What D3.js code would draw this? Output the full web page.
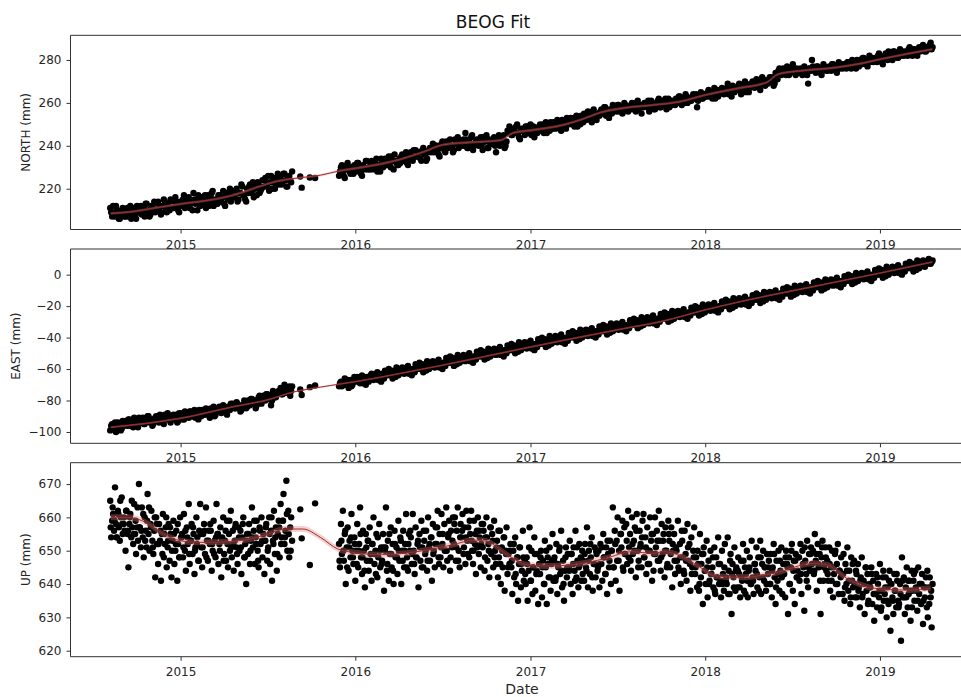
<!DOCTYPE html>
<html><head><meta charset="utf-8">
<script src="https://cdn.jsdelivr.net/npm/d3@7"></script>
<style>html,body{margin:0;padding:0;background:#fff;} svg{display:block;}</style>
</head><body><svg id="chart" width="961" height="697"></svg>
<script>
// ---- tick labels ----
const years = ["2015", "2016", "2017", "2018", "2019"];
const northTicks = [220, 240, 260, 280];
const eastTicks = [-100, -80, -60, -40, -20, 0];
const upTicks = [620, 630, 640, 650, 660, 670];

// ---- sampling epochs ----
const startA = "2014-08-07";          // first campaign block
const startB = "2015-11-28";          // block after the outage
const stepNE = 4;                     // days between epochs within one N/E array
const stepUp = 2;                     // days between epochs in the main U arrays
const stepUp2 = 4;                    // days between epochs in the secondary U arrays
const gapDates = ["2015-09-08", "2015-09-11", "2015-09-28", "2015-10-09"];

// ---- NORTH (mm) ----
const northA = [211,207,209,212,208,206,210,208, 207,211,209,206,210,208,212,209,
  212,209,207,213,210,208,211,214, 210,214,212,209,215,211,213,210,
  214,211,216,212,209,213,215,211, 212,216,213,210,215,214,217,212,
  216,213,211,217,214,218,212,215, 213,217,215,219,212,216,218,214,
  219,216,220,215,218,221,217,214, 218,222,219,216,221,223,218,220,
  221,225,222,219,226,223,220,224, 222,226,223,227,221,225,224,228];
const northA2 = [209,212,207,210,206,209,211,207, 210,207,212,208,211,206,209,210,
  208,211,213,209,207,212,210,209, 213,210,208,212,214,209,211,215,
  211,215,213,210,214,212,217,213, 215,211,214,218,213,210,216,214,
  213,217,215,212,216,219,214,213, 217,214,216,213,218,215,220,216,
  216,219,214,218,222,217,215,220, 221,218,223,220,217,222,219,224,
  224,221,226,223,220,225,222,227, 225,222,227,224,221,226,223];
const northGap = [225.7, 220.5, 225.2, 225.0];
const northB = [226,230,228,225,231,229,227,230, 231,228,232,229,226,230,233,229,
  229,233,230,232,228,231,234,230, 234,231,235,230,233,236,232,231,
  232,236,233,237,231,235,234,238, 238,235,237,233,239,236,234,238,
  237,241,238,240,236,239,242,238, 242,239,243,240,238,241,244,240,
  240,243,246,239,242,244,238,241, 243,240,244,238,242,245,239,241,
  241,244,237,243,240,242,245,240, 247,249,245,248,246,250,244,248,
  248,245,249,247,250,246,244,248, 247,250,248,246,251,249,247,250,
  251,248,252,249,247,251,250,253, 250,253,251,249,254,252,250,253,
  255,252,256,253,251,257,254,255, 254,257,256,258,255,253,257,259,
  258,256,259,257,255,260,258,256, 257,260,258,256,261,259,255,258,
  260,258,256,261,259,257,260,262, 258,261,260,257,262,260,259,261,
  262,260,263,259,261,264,260,262, 261,264,262,258,263,265,262,264,
  263,266,264,262,267,265,263,266, 267,264,266,269,265,263,267,266,
  266,269,264,268,270,267,265,269, 270,267,271,268,266,272,269,270,
  269,272,270,268,274,271,276,273, 276,274,277,273,275,278,274,276,
  274,276,273,277,275,269,276,280, 276,274,277,275,273,278,276,275,
  277,275,278,276,274,279,277,276, 278,276,279,277,280,278,276,279,
  280,278,281,279,277,282,280,279, 281,279,283,280,278,282,281,284,
  283,280,284,282,281,285,283,282, 284,282,286,283,285,284,282,286,
  285,287,284,286,285,288,286];
const northB2 = [228,231,226,229,232,228,230,227, 229,232,230,227,231,229,233,230,
  232,229,231,234,230,228,232,231, 231,234,232,235,229,233,231,234,
  235,233,236,232,234,237,233,235, 235,237,234,238,236,233,237,239,
  239,237,240,238,235,241,239,237, 239,242,240,237,243,241,239,242,
  242,240,243,239,241,245,240,242, 241,243,240,244,242,239,243,241,
  243,240,242,245,241,243,239,242, 246,248,245,247,249,246,243,247,
  247,249,246,248,245,249,247,246, 249,247,250,248,246,249,251,248,
  250,249,251,248,252,250,248,251, 252,250,253,251,249,252,254,251,
  254,253,255,252,256,254,252,255, 256,255,258,254,256,257,255,257,
  257,259,256,258,256,259,257,258, 259,257,260,258,257,259,258,260,
  259,261,258,260,257,259,261,258, 260,259,262,260,258,261,260,259,
  261,263,260,262,260,263,261,262, 263,262,264,261,263,262,264,263,
  265,263,265,264,262,266,264,265, 266,265,267,264,266,268,265,266,
  268,266,268,267,265,268,267,268, 269,268,270,267,269,271,268,269,
  271,270,272,269,273,275,274,275, 275,273,276,274,276,275,273,275,
  275,274,276,275,273,276,275,277, 275,277,276,274,276,277,275,276,
  276,278,277,275,277,276,278,277, 277,279,278,276,279,278,280,277,
  279,281,280,278,280,279,281,280, 280,282,281,279,281,283,280,282,
  282,284,283,281,283,282,284,283, 283,285,284,282,285,283,285,284,
  285,286,284,286,287,285];

// ---- EAST (mm) ----
const eastA = [-99,-95,-97,-100,-94,-96,-98,-95, -93,-96,-92,-95,-97,-93,-94,-91,
  -94,-91,-95,-92,-90,-93,-96,-92, -90,-93,-89,-92,-95,-91,-88,-92,
  -92,-89,-91,-94,-88,-90,-92,-87, -88,-91,-87,-90,-86,-89,-92,-88,
  -86,-89,-85,-88,-91,-87,-84,-89, -87,-84,-88,-83,-86,-89,-85,-82,
  -82,-85,-81,-84,-87,-83,-80,-85, -80,-83,-79,-82,-85,-80,-77,-82,
  -77,-80,-76,-79,-83,-74,-78,-75, -74,-72,-76,-70,-75,-73,-77,-71];
const eastA2 = [-96,-98,-94,-97,-95,-99,-93,-96, -95,-92,-96,-94,-91,-95,-97,-93,
  -92,-95,-93,-90,-94,-92,-95,-91, -91,-94,-91,-93,-89,-92,-90,-94,
  -90,-92,-89,-93,-90,-88,-92,-90, -89,-87,-90,-88,-91,-89,-86,-90,
  -87,-89,-86,-88,-85,-88,-90,-86, -85,-87,-84,-86,-88,-84,-86,-83,
  -83,-85,-82,-84,-86,-83,-81,-84, -81,-79,-82,-80,-83,-78,-81,-80,
  -78,-76,-79,-77,-80,-75,-78,-76, -74,-76,-72,-75,-73,-71,-74];
const eastGap = [-73.0, -76.5, -71.5, -70.5];
const eastB = [-71,-68,-70,-66,-69,-72,-67,-70, -65,-68,-66,-69,-64,-67,-70,-66,
  -66,-63,-67,-64,-62,-66,-68,-64, -61,-64,-60,-63,-66,-62,-59,-64,
  -62,-59,-63,-60,-58,-62,-64,-60, -57,-60,-56,-59,-62,-58,-55,-60,
  -58,-55,-59,-56,-54,-58,-60,-56, -53,-56,-52,-55,-58,-54,-51,-56,
  -54,-51,-55,-52,-50,-54,-56,-52, -49,-52,-48,-51,-54,-50,-47,-52,
  -50,-47,-51,-48,-46,-50,-52,-48, -45,-48,-44,-47,-50,-46,-43,-48,
  -46,-43,-47,-44,-42,-46,-48,-44, -41,-44,-40,-43,-46,-42,-39,-44,
  -42,-39,-43,-40,-38,-42,-44,-40, -37,-40,-36,-39,-42,-38,-35,-40,
  -38,-35,-39,-36,-34,-38,-40,-36, -33,-36,-32,-35,-38,-34,-31,-36,
  -34,-31,-35,-32,-30,-34,-36,-32, -29,-32,-28,-31,-34,-30,-27,-32,
  -30,-27,-31,-28,-26,-30,-32,-28, -25,-28,-24,-27,-30,-26,-23,-28,
  -26,-23,-27,-24,-22,-26,-28,-24, -21,-24,-20,-23,-26,-22,-19,-24,
  -22,-19,-23,-20,-18,-22,-24,-20, -17,-20,-16,-19,-22,-18,-15,-20,
  -18,-15,-19,-16,-14,-18,-20,-16, -13,-16,-12,-15,-18,-14,-11,-16,
  -14,-11,-15,-12,-10,-14,-16,-12, -9,-12,-8,-11,-14,-10,-7,-12,
  -10,-7,-11,-8,-6,-10,-12,-8, -5,-8,-4,-7,-10,-6,-3,-8,
  -6,-3,-7,-4,-2,-6,-8,-4, -1,-4,0,-3,-6,-2,1,-4,
  -2,1,-3,0,2,-2,-4,0, 3,0,4,1,-2,2,5,0,
  2,5,1,4,6,2,0,4, 7,4,8,5,2,6,9,4,
  6,9,5,8,10,7,9];
const eastB2 = [-69,-71,-68,-70,-67,-69,-71,-68, -67,-65,-68,-66,-69,-67,-65,-68,
  -64,-66,-65,-63,-67,-65,-63,-66, -63,-62,-64,-61,-63,-65,-62,-63,
  -60,-62,-61,-59,-63,-61,-60,-62, -59,-58,-60,-57,-59,-61,-58,-59,
  -56,-58,-57,-55,-59,-57,-56,-58, -55,-54,-56,-53,-55,-57,-54,-55,
  -52,-54,-53,-51,-55,-53,-52,-54, -51,-50,-52,-49,-51,-53,-50,-51,
  -48,-50,-49,-47,-51,-49,-48,-50, -47,-46,-48,-45,-47,-49,-46,-47,
  -44,-46,-45,-43,-47,-45,-44,-46, -43,-42,-44,-41,-43,-45,-42,-43,
  -40,-42,-41,-39,-43,-41,-40,-42, -39,-38,-40,-37,-39,-41,-38,-39,
  -36,-38,-37,-35,-39,-37,-36,-38, -35,-34,-36,-33,-35,-37,-34,-35,
  -32,-34,-33,-31,-35,-33,-32,-34, -31,-30,-32,-29,-31,-33,-30,-31,
  -28,-30,-29,-27,-31,-29,-28,-30, -27,-26,-28,-25,-27,-29,-26,-27,
  -24,-26,-25,-23,-27,-25,-24,-26, -23,-22,-24,-21,-23,-25,-22,-23,
  -20,-22,-21,-19,-23,-21,-20,-22, -19,-18,-20,-17,-19,-21,-18,-19,
  -16,-18,-17,-15,-19,-17,-16,-18, -15,-14,-16,-13,-15,-17,-14,-15,
  -12,-14,-13,-11,-15,-13,-12,-14, -11,-10,-12,-9,-11,-13,-10,-11,
  -8,-10,-9,-7,-11,-9,-8,-10, -7,-6,-8,-5,-7,-9,-6,-7,
  -4,-6,-5,-3,-7,-5,-4,-6, -3,-2,-4,-1,-3,-5,-2,-3,
  0,-2,-1,1,-3,-1,0,-2, 1,2,0,3,1,-1,2,1,
  4,2,3,5,1,3,4,2, 5,6,4,7,5,3,6,5,
  8,6,7,9,7,8];

// ---- UP (mm) ----
const upA = [665,654,659,661,656,669,658,654,662,657,653,660,666,655,658,
  656,650,662,655,645,658,661,654,657,652,664,655,649,657,653,
  670,657,651,663,654,648,660,656,651,667,655,650,658,662,653,
  649,656,642,660,652,646,658,653,641,655,661,648,652,657,645,
  651,658,647,655,642,653,659,646,650,656,641,652,648,660,654,
  655,648,661,650,644,657,652,664,646,653,658,649,655,643,651,
  660,654,647,656,664,651,645,655,658,649,663,653,647,656,652,
  656,644,650,659,653,648,664,655,646,652,657,642,654,660,649,
  653,647,659,645,655,650,662,648,656,644,653,658,651,646,657,
  650,656,643,654,660,648,652,640,655,649,658,646,653,663,651,
  656,646,654,659,650,645,657,652,660,648,655,643,653,658,647,
  651,660,646,656,641,653,662,649,657,644,655,659,648,664,654,
  659,667,652,656,671,650,662,648,657,660,653];
const upA2 = [657,663,659,654,661,665,658,660, 662,656,660,665,655,659,663,657,
  656,661,653,659,663,657,651,660, 658,652,656,649,655,660,653,657,
  650,655,652,658,648,654,651,656, 654,649,653,657,650,652,647,655,
  651,656,648,653,658,652,649,654, 655,650,653,647,656,652,659,651,
  652,657,649,654,651,658,648,653, 655,650,654,659,652,647,656,653,
  653,657,650,655,660,652,654,649, 657,652,659,654,661,655,650];
const upGap = [662.4, 653.7, 645.7, 664.2];
const upB = [652,645,658,649,662,647,655,640,651,657,644,653,648,661,650,
  646,654,641,650,658,645,652,663,648,643,656,650,639,655,647,
  653,644,657,649,641,652,660,646,650,655,642,648,658,645,651,
  647,655,638,650,663,644,653,641,649,657,645,652,640,656,648,
  651,643,659,647,654,640,650,656,645,652,661,648,644,655,650,
  654,646,661,650,643,657,648,652,639,655,647,659,651,645,653,
  649,656,644,660,651,647,654,641,658,650,645,657,652,662,648,
  655,648,661,652,645,658,650,663,647,654,659,644,656,651,660,
  652,660,647,656,663,650,645,658,654,661,649,657,646,662,653,
  657,648,655,662,650,646,659,652,643,656,660,649,654,645,658,
  651,656,644,654,660,647,652,642,657,649,655,645,659,650,646,
  653,642,648,656,640,651,645,654,638,650,657,643,649,646,652,
  645,637,650,642,654,640,648,635,646,651,639,644,656,641,647,
  640,648,635,644,657,641,650,637,645,654,638,643,649,634,646,
  643,650,636,647,640,653,645,634,648,642,651,638,646,655,641,
  648,641,652,637,645,650,643,656,639,647,635,644,651,642,649,
  645,653,640,649,637,651,644,656,642,647,639,652,646,641,650,
  647,641,652,645,657,639,650,643,648,654,638,646,651,642,649,
  644,650,639,652,646,641,655,648,643,651,637,649,645,653,640,
  650,663,645,656,641,653,660,647,638,655,651,659,644,657,649,
  658,646,662,651,655,644,660,649,653,657,642,661,650,647,656,
  652,645,659,661,648,654,643,657,650,646,660,653,641,655,649,
  660,651,656,647,662,653,644,658,649,655,642,657,650,646,659,
  653,645,657,639,650,655,643,651,647,659,644,652,640,656,648,
  644,656,649,641,658,647,652,638,654,645,650,657,643,648,639,
  646,638,655,642,649,634,651,644,640,653,636,647,641,650,643,
  645,639,651,637,648,642,654,640,646,636,650,643,638,652,641,
  640,654,644,637,649,631,646,642,651,638,645,639,648,643,636,
  647,641,652,638,645,643,650,636,644,648,640,653,642,637,646,
  644,651,639,648,642,653,637,646,650,641,645,638,649,643,647,
  640,649,636,645,652,642,634,647,641,650,638,644,651,637,646,
  643,636,650,646,631,648,640,645,652,638,647,634,649,642,644,
  648,641,652,637,650,645,632,647,643,653,639,649,644,651,646,
  650,643,655,647,638,652,645,649,631,648,653,641,646,651,644,
  647,641,651,638,645,650,636,643,649,640,646,652,637,644,642,
  643,637,649,635,646,640,651,638,644,634,648,641,639,647,636,
  644,636,646,639,633,642,648,637,641,631,645,638,643,635,640,
  639,645,634,641,629,637,643,633,640,636,646,632,638,642,635,
  637,642,630,639,634,644,626,640,636,631,643,638,633,641,635,
  634,640,623,648,636,642,631,639,645,633,637,641,629,644,638,
  641,635,644,638,632,645,637,640,634,643,628,639,636,642,633,
  630,639,642,636,627,640];
const upB2 = [647,653,650,656,645,651,654,648, 652,646,650,655,648,644,651,653,
  647,652,649,643,654,650,646,651, 651,646,655,649,644,652,648,650,
  653,647,650,645,652,656,649,646, 648,653,651,645,656,650,647,652,
  654,649,652,657,646,651,655,650, 650,655,648,653,658,651,647,654,
  656,651,654,649,659,653,650,655, 651,656,652,658,648,654,650,657,
  653,648,651,656,646,650,654,649, 645,650,647,652,643,648,651,646,
  648,643,646,651,641,645,649,644, 643,648,645,640,650,646,642,647,
  647,642,646,651,644,640,648,645, 644,649,646,641,651,645,648,643,
  649,644,647,652,642,646,650,645, 646,651,648,643,653,647,650,645,
  652,647,650,655,645,649,653,648, 647,652,650,656,645,651,654,648,
  651,646,650,655,644,649,653,647, 648,653,650,645,655,649,652,647,
  650,645,648,653,643,647,651,646, 643,648,645,650,640,646,649,644,
  645,640,643,648,638,642,646,641, 640,645,642,637,647,643,639,644,
  644,639,642,647,637,641,645,640, 641,646,643,638,648,642,645,640,
  645,640,644,649,639,643,647,642, 643,648,645,640,650,644,647,642,
  648,643,646,651,641,645,649,644, 644,649,646,641,651,645,648,643,
  646,641,645,650,640,644,648,643, 639,644,641,636,646,640,643,638,
  641,636,640,645,634,639,643,637, 637,642,638,633,644,639,635,641,
  640,635,638,643,633,637,641,636, 636,641,638,633,643,639,635,640,
  640,635,639,644,634,638];

// ---- fitted trajectories (decimal year, mm) ----
const northFitT = [2014.60,2014.72,2014.85,2015.0,2015.15,2015.3,2015.45,2015.55,2015.65,2015.8,2015.92,2016.0,2016.2,2016.4,2016.5,2016.65,2016.83,2016.9,2017.0,2017.2,2017.3,2017.4,2017.55,2017.7,2017.85,2018.0,2018.2,2018.35,2018.42,2018.55,2018.75,2018.9,2019.0,2019.3];
const northFitV = [208.5,209.3,211,212.9,214.5,217,221,223.5,224.8,226.3,228.5,229.5,232.5,237.5,240.5,241.6,242.6,246,247.2,250,252.5,255.5,257.8,259,260.5,263.7,267,269.5,273.5,275,276.5,278.5,280.3,285];
const eastFitT = [2014.60,2015.0,2015.3,2015.5,2015.65,2015.8,2016.0,2016.5,2017.0,2017.5,2017.76,2018.0,2018.4,2018.6,2019.0,2019.3];
const eastFitV = [-97,-91.3,-84,-79.5,-74.5,-71.5,-68,-57.5,-46,-35,-29.5,-22.4,-12.5,-8,1,8];
const upFitT = [2014.60,2014.70,2014.80,2014.90,2015.0,2015.1,2015.2,2015.3,2015.4,2015.5,2015.6,2015.7,2015.8,2015.9,2016.0,2016.15,2016.35,2016.55,2016.68,2016.75,2016.87,2016.98,2017.1,2017.3,2017.43,2017.58,2017.7,2017.76,2017.87,2017.98,2018.05,2018.2,2018.39,2018.62,2018.70,2018.81,2018.97,2019.15,2019.29];
const upFitV = [660,660,658.5,655,653,652.5,652.5,652.8,653.5,655,656.5,656.5,654,650.5,649.4,648.8,649.7,651.7,653.2,652.8,648.7,645.8,645.4,646.2,647.7,649.7,649.2,649.7,648.2,644.7,642.5,642,643.2,646.2,645.7,641.7,638.7,638.2,638.7];
const fitSigma = { north: 0.6, east: 0.6, up: 0.9 };

// ---- helpers ----
const parse = d3.utcParse("%Y-%m-%d");
function yearToDate(y) {
  const yr = Math.floor(y), s = Date.UTC(yr, 0, 1), e = Date.UTC(yr + 1, 0, 1);
  return new Date(s + (y - yr) * (e - s));
}
// one array of values sampled every `step` days from `start` shifted by `shift` days
function block(values, start, shift, step) {
  const s = d3.utcDay.offset(parse(start), shift);
  return values.map((v, i) => ({ t: d3.utcDay.offset(s, i * step), v }));
}
function gapBlock(values) {
  return values.map((v, i) => ({ t: parse(gapDates[i]), v }));
}
const minus = d => (d < 0 ? "\u2212" + Math.abs(d) : String(d));

const svg = d3.select("#chart");
const left = 70.5, right = 974;
const x = d3.scaleUtc()
  .domain([new Date(Date.UTC(2014, 4, 16)), new Date(Date.UTC(2019, 6, 16, 12))])
  .range([left, right]);

const panels = [
  { label: "NORTH (mm)", labelX: 29.5, top: 35.3, bottom: 229.5, domain: [201, 291.5], ticks: northTicks,
    data: [].concat(block(northA, startA, 0, stepNE), block(northA2, startA, 2, stepNE), gapBlock(northGap),
                    block(northB, startB, 0, stepNE), block(northB2, startB, 2, stepNE)),
    fitT: northFitT, fitV: northFitV, sig: fitSigma.north },
  { label: "EAST (mm)", labelX: 20, top: 249, bottom: 443.3, domain: [-107.2, 16.3], ticks: eastTicks,
    data: [].concat(block(eastA, startA, 0, stepNE), block(eastA2, startA, 2, stepNE), gapBlock(eastGap),
                    block(eastB, startB, 0, stepNE), block(eastB2, startB, 2, stepNE)),
    fitT: eastFitT, fitV: eastFitV, sig: fitSigma.east },
  { label: "UP (mm)", labelX: 29.5, top: 462.7, bottom: 656.7, domain: [618.2, 676.4], ticks: upTicks,
    data: [].concat(block(upA, startA, 0, stepUp), block(upA2, startA, 1, stepUp2), gapBlock(upGap),
                    block(upB, startB, 0, stepUp), block(upB2, startB, 1, stepUp2)),
    fitT: upFitT, fitV: upFitV, sig: fitSigma.up }
];

const font = "DejaVu Sans, sans-serif";
const ink = "#262626";

panels.forEach(p => {
  const y = d3.scaleLinear().domain(p.domain).range([p.bottom, p.top]);
  const g = svg.append("g");

  // axes background
  g.append("rect").attr("x", left).attr("y", p.top)
    .attr("width", right - left).attr("height", p.bottom - p.top).attr("fill", "#fff");

  // observations
  g.append("g").selectAll("circle").data(p.data.sort((a, b) => a.t - b.t)).join("circle")
    .attr("cx", d => x(d.t)).attr("cy", d => y(d.v)).attr("r", 3.2).attr("fill", "#000");

  // fitted model with its uncertainty band
  const fit = p.fitT.map((t, i) => ({ t: yearToDate(t), v: p.fitV[i] }));
  g.append("path").datum(fit)
    .attr("d", d3.area().curve(d3.curveMonotoneX)
      .x(d => x(d.t)).y0(d => y(d.v - p.sig)).y1(d => y(d.v + p.sig)))
    .attr("fill", "#e07a7a").attr("fill-opacity", 0.35);
  g.append("path").datum(fit)
    .attr("d", d3.line().curve(d3.curveMonotoneX).x(d => x(d.t)).y(d => y(d.v)))
    .attr("fill", "none").attr("stroke", "#a32a2a").attr("stroke-width", 1);

  // y axis
  const ya = g.append("g").attr("transform", `translate(${left},0)`)
    .call(d3.axisLeft(y).tickValues(p.ticks).tickFormat(minus).tickSize(4).tickPadding(5));
  ya.select(".domain").remove();
  ya.selectAll("line").attr("stroke", "#333");
  ya.selectAll("text").attr("font-family", font).attr("font-size", 12).attr("fill", ink);

  // x axis
  const xa = g.append("g").attr("transform", `translate(0,${p.bottom})`)
    .call(d3.axisBottom(x).tickValues(years.map(s => new Date(Date.UTC(+s, 0, 1))))
      .tickFormat(d3.utcFormat("%Y")).tickSize(4).tickPadding(6.5));
  xa.select(".domain").remove();
  xa.selectAll("line").attr("stroke", "#333");
  xa.selectAll("text").attr("font-family", font).attr("font-size", 12).attr("fill", ink);

  // spines
  g.append("path")
    .attr("d", `M${right},${p.top}H${left}V${p.bottom}H${right}`)
    .attr("fill", "none").attr("stroke", "#333").attr("stroke-width", 1);

  // y label
  g.append("text")
    .attr("transform", `translate(${p.labelX},${(p.top + p.bottom) / 2}) rotate(-90)`)
    .attr("text-anchor", "middle").attr("font-family", font).attr("font-size", 12)
    .attr("fill", ink).text(p.label);
});

svg.append("text").attr("x", 493).attr("y", 28).attr("text-anchor", "middle")
  .attr("font-family", font).attr("font-size", 17).attr("fill", "#111").text("BEOG Fit");
svg.append("text").attr("x", 522).attr("y", 694).attr("text-anchor", "middle")
  .attr("font-family", font).attr("font-size", 14).attr("fill", ink).text("Date");
</script></body></html>
